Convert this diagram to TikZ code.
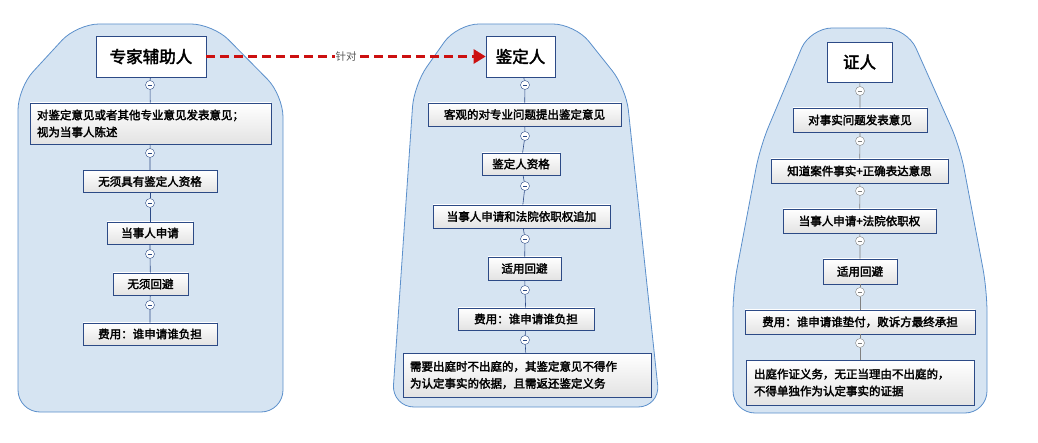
\documentclass[tikz,border=0pt]{standalone}
\usepackage{fontspec}
\setmainfont{Noto Sans CJK SC}[AutoFakeBold=2.5]
\usetikzlibrary{arrows.meta}
\definecolor{panelfill}{HTML}{D6E4F2}
\definecolor{paneldraw}{HTML}{5B8FCB}
\definecolor{boxdraw}{HTML}{2C4A86}
\definecolor{arrowred}{HTML}{CC1010}
\begin{document}
\begin{tikzpicture}[x=1pt,y=-1pt,
    panel/.style={fill=panelfill,draw=paneldraw,thick,rounded corners=22pt},
    title node/.style={draw=boxdraw,semithick,fill=white,font=\fontsize{16.5}{18}\selectfont\bfseries,inner sep=0pt},
    main node/.style={draw=boxdraw,semithick,top color=white,bottom color=gray!22,font=\fontsize{11.5}{17}\selectfont\bfseries,inner sep=0pt},
    knob/.style={circle,draw=#1,fill=white,minimum size=9pt,inner sep=0pt,
      path picture={\draw[#1] ([xshift=2.3pt]path picture bounding box.west) -- ([xshift=-2.3pt]path picture bounding box.east);}},
    knob/.default=boxdraw,
    link/.style={draw=#1,semithick},
    link/.default=boxdraw]
\useasboundingbox (0,0) rectangle (1038,443);

%Panels
\path[panel] (77,24) -- (213,24) -- (283,95) -- (283,412) -- (18,412) -- (18,88) -- cycle;
\path[panel] (457,24) -- (575,24) -- (626,88) -- (660,407) -- (392,407) -- (414,85) -- cycle;
\path[panel] (810,28) -- (907,28) -- (960,147) -- (987,290) -- (987,413) -- (733,413) -- (733,290) -- (760,147) -- cycle;

%Expert assistant
\node[title node,minimum width=110pt,minimum height=41pt] (A0) at (151,56.5) {专家辅助人};
\node[main node,minimum width=241pt,minimum height=41pt,text width=227pt,align=left] (A1) at (150.5,123.5) {对鉴定意见或者其他专业意见发表意见；\\视为当事人陈述};
\node[main node,minimum width=134pt,minimum height=22pt] (A2) at (150,181.5) {无须具有鉴定人资格};
\node[main node,minimum width=86pt,minimum height=22pt] (A3) at (150,233) {当事人申请};
\node[main node,minimum width=75pt,minimum height=22pt] (A4) at (150.5,284) {无须回避};
\node[main node,minimum width=134pt,minimum height=22pt] (A5) at (150,334) {费用：谁申请谁负担};
\foreach \y [count=\i from 0] in {85,153,203,254,305}
  \node[knob] (KA\i) at (150,\y) {};
\foreach \i [count=\j] in {0,...,4}
  \draw[link] (A\i) -- (KA\i) -- (A\j);

%Appraiser
\node[title node,minimum width=69pt,minimum height=41pt] (B0) at (520.5,56.5) {鉴定人};
\node[main node,minimum width=193pt,minimum height=23pt] (B1) at (524.5,114.5) {客观的对专业问题提出鉴定意见};
\node[main node,minimum width=78pt,minimum height=22pt] (B2) at (521,164) {鉴定人资格};
\node[main node,minimum width=177pt,minimum height=23pt] (B3) at (521.5,216.5) {当事人申请和法院依职权追加};
\node[main node,minimum width=73pt,minimum height=23pt] (B4) at (524.5,268.5) {适用回避};
\node[main node,minimum width=136pt,minimum height=22pt] (B5) at (526,319) {费用：谁申请谁负担};
\node[main node,minimum width=248pt,minimum height=44pt,text width=234pt,align=left] (B6) at (527,375) {需要出庭时不出庭的，其鉴定意见不得作\\为认定事实的依据，且需返还鉴定义务};
\foreach \y [count=\i from 0] in {85,136,186,239,290,340}
  \node[knob] (KB\i) at (525,\y) {};
\foreach \i [count=\j] in {0,...,5}
  \draw[link] (B\i) -- (KB\i) -- (B\j);

%Witness
\node[title node,minimum width=65pt,minimum height=40pt] (C0) at (859.5,62) {证人};
\node[main node,minimum width=134pt,minimum height=24pt] (C1) at (860,120) {对事实问题发表意见};
\node[main node,minimum width=177pt,minimum height=24pt] (C2) at (859.5,171) {知道案件事实+正确表达意思};
\node[main node,minimum width=153pt,minimum height=24pt] (C3) at (859.5,221) {当事人申请+法院依职权};
\node[main node,minimum width=74pt,minimum height=25pt] (C4) at (860,271.5) {适用回避};
\node[main node,minimum width=230pt,minimum height=24pt] (C5) at (860,322) {费用：谁申请谁垫付，败诉方最终承担};
\node[main node,minimum width=228pt,minimum height=45pt,text width=212pt,align=left] (C6) at (860,382.5) {出庭作证义务，无正当理由不出庭的，\\不得单独作为认定事实的证据};
\foreach \y [count=\i from 0] in {91,141,191,241,292,343}
  \node[knob=gray] (KC\i) at (860,\y) {};
\foreach \i [count=\j] in {0,...,5}
  \draw[link=gray] (C\i) -- (KC\i) -- (C\j);

%Relation
\draw[arrowred,line width=2.5pt,dash pattern=on 9pt off 5pt,-{Triangle[length=12pt,width=14pt]}] (A0) -- node[fill=white,text=gray!70!black,font=\fontsize{10.5}{12}\selectfont,inner sep=1pt] (R) {针对} (B0);
\end{tikzpicture}
\end{document}
